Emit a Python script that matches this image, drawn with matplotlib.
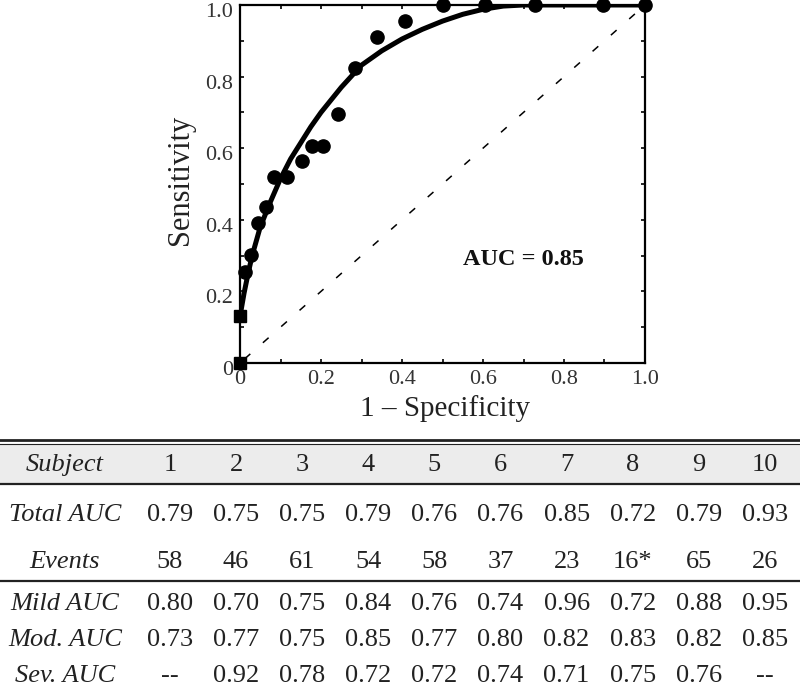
import matplotlib
matplotlib.use("Agg")
import matplotlib.pyplot as plt
from matplotlib.ticker import MultipleLocator
from matplotlib.transforms import ScaledTranslation

plt.rcParams['font.family'] = ['Liberation Serif', 'DejaVu Serif']

# ROC points (1 - specificity, sensitivity)
fpr_pts = [0.0, 0.0, 0.012, 0.026, 0.045, 0.064, 0.085, 0.117, 0.152, 0.177,
           0.204, 0.241, 0.284, 0.339, 0.407, 0.502, 0.605, 0.728, 0.897, 1.0]
tpr_pts = [0.0, 0.13, 0.255, 0.302, 0.392, 0.435, 0.52, 0.52, 0.564, 0.607,
           0.607, 0.695, 0.824, 0.912, 0.954, 1.0, 1.0, 1.0, 1.0, 1.0]

# fitted curve
fit_x = [0.0, 0.01, 0.02, 0.03, 0.05, 0.075, 0.10, 0.125, 0.15, 0.175, 0.20,
         0.25, 0.30, 0.35, 0.40, 0.45, 0.50, 0.55, 0.60, 0.65, 0.70, 1.0]
fit_y = [0.13, 0.195, 0.25, 0.30, 0.38, 0.45, 0.515, 0.57, 0.615, 0.66, 0.70,
         0.77, 0.832, 0.872, 0.905, 0.932, 0.955, 0.974, 0.988, 0.997, 1.0, 1.0]

ticks = [0, 0.2, 0.4, 0.6, 0.8, 1.0]
tick_labels = ['0', '0.2', '0.4', '0.6', '0.8', '1.0']

# table
subjects = ['1', '2', '3', '4', '5', '6', '7', '8', '9', '10']
total_auc = ['0.79', '0.75', '0.75', '0.79', '0.76', '0.76', '0.85', '0.72', '0.79', '0.93']
events = ['58', '46', '61', '54', '58', '37', '23', '16*', '65', '26']
mild_auc = ['0.80', '0.70', '0.75', '0.84', '0.76', '0.74', '0.96', '0.72', '0.88', '0.95']
mod_auc = ['0.73', '0.77', '0.75', '0.85', '0.77', '0.80', '0.82', '0.83', '0.82', '0.85']
sev_auc = ['--', '0.92', '0.78', '0.72', '0.72', '0.74', '0.71', '0.75', '0.76', '--']

fig = plt.figure(figsize=(8, 6.87), dpi=100)

# --- table drawn in a full-figure pixel canvas ---
tab = fig.add_axes([0, 0, 1, 1])
tab.set_xlim(0, 800)
tab.set_ylim(687, 0)
tab.axis('off')
tab.axhspan(445, 483, color='#ececec', lw=0)
tab.axhline(440, color='#222222', lw=2.0)
tab.axhline(444, color='#222222', lw=0.8)
tab.axhline(484, color='#222222', lw=1.6)
tab.axhline(581, color='#222222', lw=1.6)

rows = [('Subject', subjects, 465), ('Total AUC', total_auc, 515),
        ('Events', events, 562), ('Mild AUC', mild_auc, 604),
        ('Mod. AUC', mod_auc, 640), ('Sev. AUC', sev_auc, 676)]
col_x = [170 + 66.1 * i for i in range(10)]
for name, vals, y in rows:
    tab.text(65, y, name, ha='center', va='center', fontsize=19,
             style='italic', color='#222222')
    for x, v in zip(col_x, vals):
        tab.text(x, y, v, ha='center', va='center', fontsize=19, color='#222222')

# --- ROC plot ---
ax = fig.add_axes([0.3, 1 - 363 / 687, 405 / 800, 358 / 687])
ax.plot([0, 1], [0, 1], color='black', lw=1.1, linestyle=(12, (5, 11)))
ax.plot(fit_x, fit_y, color='black', lw=3.6, solid_capstyle='round',
        solid_joinstyle='round', zorder=3)
ax.plot(fpr_pts[2:], tpr_pts[2:], 'o', color='black', ms=9.5, clip_on=False, zorder=4)
ax.plot(fpr_pts[:2], tpr_pts[:2], 's', color='black', ms=8.5, clip_on=False, zorder=4)

ax.set_xlim(0, 1)
ax.set_ylim(0, 1)
ax.set_xticks(ticks, tick_labels)
ax.set_yticks(ticks, tick_labels)
ax.xaxis.set_minor_locator(MultipleLocator(0.1))
ax.yaxis.set_minor_locator(MultipleLocator(0.1))
ax.tick_params(which='both', direction='in', length=3, width=1.2,
               top=True, right=True, labelsize=16, labelcolor='#333333', pad=5)
for s in ax.spines.values():
    s.set_linewidth(1.6)

# y tick labels sit a few pixels below their ticks in the original
shift = ScaledTranslation(0, -0.05, fig.dpi_scale_trans)
for lbl in ax.get_yticklabels():
    lbl.set_transform(lbl.get_transform() + shift)

ax.set_xlabel('1 \u2013 Specificity', fontsize=21, color='#222222', va='center')
ax.xaxis.set_label_coords(0.506, -0.126)
ax.set_ylabel('Sensitivity', fontsize=22, color='#222222', va='center')
ax.yaxis.set_label_coords(-0.148, 0.511)

ax.text(0.70, 0.288, 'AUC = 0.85', transform=ax.transAxes, ha='center', va='center',
        fontsize=17.5, fontweight='bold', color='#111111')

fig.savefig('out.png', dpi=100)
